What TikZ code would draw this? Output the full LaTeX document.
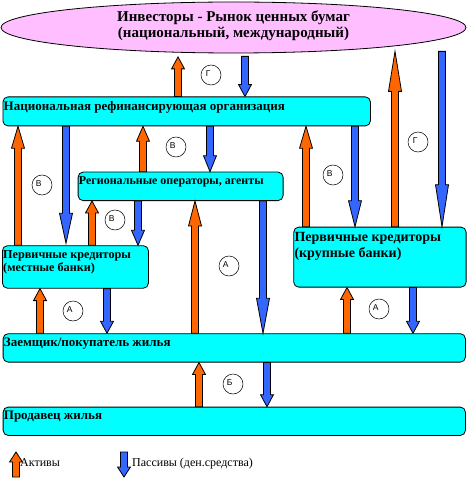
\documentclass[tikz,border=0pt]{standalone}
\usepackage{fontspec}
\setmainfont{Liberation Serif}
\setsansfont{Liberation Sans}
\usetikzlibrary{calc,shapes.geometric}
\definecolor{acyan}{RGB}{0,255,255}
\definecolor{apink}{RGB}{255,190,255}
\definecolor{ao}{RGB}{255,102,0}
\definecolor{ab}{RGB}{51,102,255}
\tikzset{
  box/.style={draw=black, line width=0.8pt, fill=acyan, rounded corners=5pt, anchor=north west, inner sep=0pt},
  btxt/.style={anchor=base west, inner sep=0pt, font=\bfseries\fontsize{13}{15}\selectfont},
  smtxt/.style={anchor=base west, inner sep=0pt, font=\bfseries\fontsize{12.2}{14}\selectfont},
  bigtxt/.style={anchor=base west, inner sep=0pt, font=\bfseries\fontsize{14}{16}\selectfont},
  etxt/.style={anchor=base, inner sep=0pt, font=\bfseries\fontsize{15}{17}\selectfont},
  ltxt/.style={anchor=base west, inner sep=0pt, font=\fontsize{12}{14}\selectfont},
  circ/.style={circle, draw=black, line width=0.5pt, minimum size=20pt, inner sep=0pt, font=\sffamily\fontsize{8.5}{9}\selectfont},
  arrline/.style={draw=black, line width=0.8pt, line join=miter}
}
\newcommand\farr[5][12]{%
  \draw[arrline, fill=#2] let \p1=(#4), \p2=(#5), \n1={ifthenelse(\y2>\y1,1,-1)} in
   ({#3pt-3.5pt},\y1) -- ({#3pt-3.5pt},{\y2-\n1*#1pt}) -- ({#3pt-6.5pt},{\y2-\n1*#1pt})
   -- (#3pt,\y2) -- ({#3pt+6.5pt},{\y2-\n1*#1pt}) -- ({#3pt+3.5pt},{\y2-\n1*#1pt})
   -- ({#3pt+3.5pt},\y1) -- cycle;}
\newcommand\cl[1]{\raisebox{3.5pt}{\makebox[0pt][r]{#1\kern0.5pt}}}
\begin{document}
\begin{tikzpicture}[x=1pt,y=-1pt]
\useasboundingbox (0,0) rectangle (467,478);
% investors ellipse
\node[ellipse, draw=black, line width=0.8pt, fill=apink, minimum width=465pt, minimum height=51pt, inner sep=0pt] (inv) at (233.5,27.5) {};
\node[etxt] (invT1) at ([yshift=5.8pt]inv.center) {Инвесторы - Рынок ценных бумаг};
\node[etxt] (invT2) at ([yshift=-10.5pt]inv.center) {(национальный, международный)};
% boxes
\node[box, minimum width=367.5pt, minimum height=29pt] (nro) at (2.5,96.5) {};
\node[btxt] (nroT) at ([xshift=1pt,yshift=-14.5pt]nro.north west) {Национальная рефинансирующая организация};
\node[box, minimum width=205pt, minimum height=28.5pt] (ro) at (77.7,171.7) {};
\node[smtxt, font=\bfseries\fontsize{12}{14}\selectfont] (roT) at ([xshift=1pt,yshift=-12.5pt]ro.north west) {Региональные операторы, агенты};
\node[box, minimum width=146pt, minimum height=42.5pt] (lb) at (2,245.3) {};
\node[smtxt] (lbT1) at ([xshift=1pt,yshift=-13pt]lb.north west) {Первичные кредиторы};
\node[smtxt] (lbT2) at ([xshift=1pt,yshift=-26.4pt]lb.north west) {(местные банки)};
\node[box, minimum width=172.4pt, minimum height=60pt] (large) at (293.3,226.7) {};
\node[bigtxt] (largeT1) at ([xshift=1pt,yshift=-15pt]large.north west) {Первичные кредиторы};
\node[bigtxt] (largeT2) at ([xshift=1pt,yshift=-31pt]large.north west) {(крупные банки)};
\node[box, minimum width=462.3pt, minimum height=28.4pt] (bor) at (2.7,333.3) {};
\node[btxt] (borT) at ([xshift=1pt,yshift=-12.7pt]bor.north west) {Заемщик/покупатель жилья};
\node[box, minimum width=462.3pt, minimum height=28.3pt] (sel) at (2.7,406.7) {};
\node[btxt] (selT) at ([xshift=1pt,yshift=-12.7pt]sel.north west) {Продавец жилья};
% arrows
\farr[12]{ao}{178}{nro.north}{[yshift=-3.5pt]inv.south}
\farr[12]{ab}{245}{[yshift=-3pt]inv.south}{nro.north}
\farr[40]{ao}{395}{large.north}{[yshift=2pt]inv.south}
\farr[42]{ab}{442}{[yshift=2pt]inv.south}{large.north}
\farr[22]{ao}{18}{lb.north}{nro.south}
\farr[30]{ab}{66}{nro.south}{[yshift=2pt]lb.north}
\farr[15]{ao}{143}{ro.north}{nro.south}
\farr[16]{ab}{210}{nro.south}{ro.north}
\farr[12]{ao}{92}{lb.north}{ro.south}
\farr[15]{ab}{138}{ro.south}{lb.north}
\farr[25]{ao}{195}{bor.north}{ro.south}
\farr[35]{ab}{263}{ro.south}{bor.north}
\farr[12]{ao}{40}{bor.north}{lb.south}
\farr[12]{ab}{107}{lb.south}{bor.north}
\farr[12]{ao}{347}{bor.north}{large.south}
\farr[12]{ab}{413}{large.south}{bor.north}
\farr[12]{ao}{199}{sel.north}{bor.south}
\farr[12]{ab}{267}{bor.south}{sel.north}
\farr[22]{ao}{306}{large.north}{nro.south}
\farr[26]{ab}{355}{nro.south}{large.north}
% circles
\node[circ] (c1) at (211,75) {\cl{Г}};
\node[circ] (c2) at (42,185) {\cl{В}};
\node[circ] (c3) at (176,147) {\cl{В}};
\node[circ] (c4) at (115,220) {\cl{В}};
\node[circ] (c5) at (229,266) {\cl{А}};
\node[circ] (c6) at (333,175) {\cl{В}};
\node[circ] (c7) at (418,142) {\cl{Г}};
\node[circ] (c8) at (73,311) {\cl{А}};
\node[circ] (c9) at (379,309) {\cl{А}};
\node[circ] (c10) at (233,384) {\cl{Б}};
% legend
\coordinate (lgo1) at (16,477);
\coordinate (lgo2) at (16,452);
\coordinate (lgb1) at (124,452);
\coordinate (lgb2) at (124,477);
\farr[10]{ao}{16}{lgo1}{lgo2}
\farr[10]{ab}{124}{lgb1}{lgb2}
\node[ltxt] (lgoT) at (20,466.7) {Активы};
\node[ltxt] (lgbT) at (132,466.7) {Пассивы (ден.средства)};
\end{tikzpicture}
\end{document}
